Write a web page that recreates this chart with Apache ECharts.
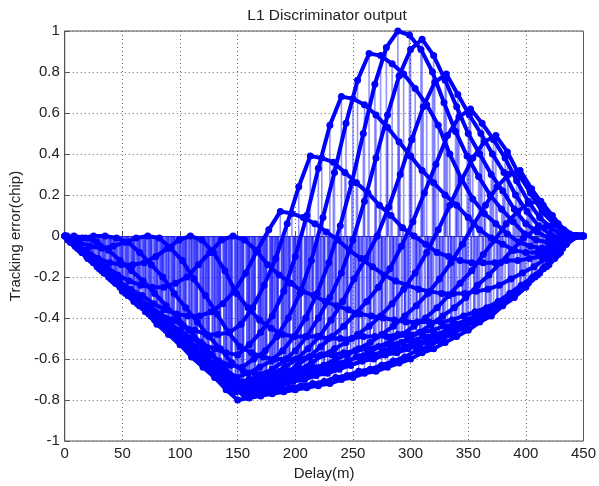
<!DOCTYPE html>
<html>
<head>
<meta charset="utf-8">
<title>L1 Discriminator output</title>
<script src="https://cdn.jsdelivr.net/npm/echarts@6.0.0/dist/echarts.min.js"></script>
<style>
  html, body { margin: 0; padding: 0; background: #fff; }
  #chart { width: 599px; height: 486px; }
</style>
</head>
<body>
<div id="chart"></div>
<script>
// delay step of every curve (m), each curve starts at its own delay
var stepM = 10;
var curveStart = [8, 5, 2, 9, 6, 7, 3, 0, 4, 9, 0, 1, 2, 4, 5, 3, 8, 0, 5];

// tracking error (chip)
var curve1 = [0.00,-0.01,-0.03,-0.07,-0.12,-0.17,-0.22,-0.28,-0.34,-0.40,-0.46,-0.52,-0.58,-0.64,-0.70,-0.71,-0.71,-0.71,-0.70,-0.69,-0.68,-0.66,-0.65,-0.64,-0.63,-0.61,-0.60,-0.58,-0.57,-0.55,-0.53,-0.51,-0.49,-0.47,-0.44,-0.41,-0.37,-0.34,-0.29,-0.25,-0.20,-0.15,-0.09,-0.02,0.00];
var curve2 = [-0.01,-0.01,0.00,0.00,-0.01,-0.03,-0.08,-0.14,-0.20,-0.28,-0.35,-0.42,-0.49,-0.55,-0.62,-0.66,-0.67,-0.67,-0.67,-0.66,-0.65,-0.64,-0.63,-0.62,-0.61,-0.59,-0.58,-0.57,-0.56,-0.54,-0.52,-0.51,-0.49,-0.46,-0.44,-0.41,-0.38,-0.35,-0.31,-0.26,-0.21,-0.16,-0.11,-0.04,0.00];
var curve3 = [-0.01,-0.03,-0.05,-0.06,-0.05,-0.03,-0.01,0.00,-0.01,-0.06,-0.12,-0.21,-0.29,-0.38,-0.47,-0.54,-0.57,-0.59,-0.60,-0.60,-0.60,-0.59,-0.58,-0.58,-0.57,-0.56,-0.55,-0.54,-0.53,-0.52,-0.51,-0.49,-0.48,-0.46,-0.44,-0.41,-0.38,-0.35,-0.31,-0.27,-0.23,-0.18,-0.12,-0.06,0.00];
var curve4 = [-0.04,-0.07,-0.11,-0.13,-0.14,-0.14,-0.13,-0.10,-0.06,-0.02,0.00,-0.02,-0.08,-0.17,-0.28,-0.35,-0.41,-0.45,-0.48,-0.49,-0.49,-0.49,-0.50,-0.50,-0.50,-0.49,-0.49,-0.49,-0.48,-0.48,-0.47,-0.46,-0.44,-0.43,-0.41,-0.38,-0.35,-0.32,-0.28,-0.24,-0.19,-0.14,-0.08,-0.01,0.00];
var curve5 = [-0.03,-0.07,-0.11,-0.15,-0.19,-0.22,-0.24,-0.25,-0.25,-0.23,-0.20,-0.14,-0.08,-0.02,0.00,-0.02,-0.07,-0.14,-0.19,-0.23,-0.27,-0.29,-0.32,-0.34,-0.36,-0.38,-0.39,-0.40,-0.41,-0.42,-0.42,-0.42,-0.42,-0.41,-0.39,-0.37,-0.35,-0.32,-0.28,-0.24,-0.20,-0.15,-0.10,-0.03,0.00];
var curve6 = [-0.03,-0.08,-0.13,-0.17,-0.22,-0.26,-0.29,-0.33,-0.36,-0.38,-0.39,-0.39,-0.37,-0.33,-0.27,-0.18,-0.07,0.03,0.12,0.11,0.09,0.06,0.02,-0.02,-0.07,-0.11,-0.15,-0.19,-0.22,-0.24,-0.26,-0.27,-0.28,-0.28,-0.28,-0.27,-0.26,-0.24,-0.21,-0.18,-0.15,-0.11,-0.07,-0.02,0.00];
var curve7 = [-0.02,-0.06,-0.11,-0.16,-0.21,-0.25,-0.30,-0.34,-0.38,-0.41,-0.44,-0.46,-0.48,-0.48,-0.47,-0.43,-0.35,-0.24,-0.11,0.06,0.24,0.39,0.38,0.36,0.31,0.26,0.21,0.15,0.10,0.04,0.00,-0.04,-0.08,-0.10,-0.12,-0.13,-0.13,-0.13,-0.12,-0.12,-0.11,-0.10,-0.07,-0.04,0.00];
var curve8 = [0.00,-0.05,-0.10,-0.15,-0.20,-0.25,-0.29,-0.34,-0.38,-0.42,-0.46,-0.50,-0.53,-0.55,-0.57,-0.58,-0.53,-0.47,-0.39,-0.27,-0.10,0.10,0.33,0.54,0.68,0.67,0.64,0.59,0.53,0.46,0.39,0.32,0.26,0.20,0.15,0.09,0.03,-0.01,-0.04,-0.07,-0.08,-0.08,-0.07,-0.05,0.00,0.00];
var curve9 = [-0.02,-0.07,-0.12,-0.17,-0.22,-0.27,-0.32,-0.36,-0.41,-0.45,-0.50,-0.54,-0.57,-0.61,-0.63,-0.64,-0.60,-0.56,-0.49,-0.40,-0.28,-0.12,0.09,0.31,0.55,0.76,0.89,0.88,0.84,0.79,0.72,0.64,0.54,0.40,0.28,0.18,0.11,0.06,0.01,-0.03,-0.05,-0.06,-0.05,-0.03,0.00];
var curve10 = [-0.05,-0.10,-0.15,-0.20,-0.25,-0.30,-0.35,-0.39,-0.44,-0.49,-0.53,-0.57,-0.62,-0.65,-0.69,-0.67,-0.64,-0.61,-0.56,-0.49,-0.40,-0.28,-0.13,0.05,0.26,0.50,0.74,0.92,1.00,0.98,0.91,0.80,0.65,0.51,0.39,0.29,0.20,0.13,0.07,0.01,-0.02,-0.03,-0.03,-0.01,0.00];
var curve11 = [0.00,-0.05,-0.10,-0.15,-0.20,-0.26,-0.31,-0.35,-0.40,-0.45,-0.50,-0.55,-0.59,-0.63,-0.68,-0.72,-0.70,-0.68,-0.65,-0.61,-0.56,-0.49,-0.40,-0.30,-0.18,-0.02,0.17,0.38,0.59,0.78,0.91,0.96,0.88,0.76,0.63,0.50,0.40,0.30,0.22,0.13,0.06,0.02,-0.01,-0.02,0.00,0.00];
var curve12 = [0.00,-0.06,-0.11,-0.16,-0.21,-0.26,-0.31,-0.36,-0.41,-0.46,-0.51,-0.56,-0.60,-0.65,-0.69,-0.73,-0.71,-0.70,-0.67,-0.64,-0.60,-0.55,-0.49,-0.41,-0.32,-0.21,-0.11,0.00,0.14,0.30,0.47,0.63,0.75,0.79,0.69,0.59,0.50,0.40,0.31,0.20,0.12,0.05,0.01,-0.01,0.00];
var curve13 = [0.00,-0.06,-0.11,-0.17,-0.22,-0.27,-0.32,-0.37,-0.42,-0.47,-0.52,-0.57,-0.62,-0.66,-0.71,-0.74,-0.73,-0.71,-0.69,-0.67,-0.63,-0.59,-0.54,-0.49,-0.44,-0.38,-0.32,-0.25,-0.16,-0.05,0.07,0.21,0.35,0.49,0.58,0.62,0.55,0.47,0.38,0.27,0.17,0.09,0.04,0.00,0.00];
var curve14 = [-0.02,-0.07,-0.12,-0.18,-0.23,-0.28,-0.33,-0.38,-0.43,-0.48,-0.53,-0.58,-0.63,-0.68,-0.73,-0.75,-0.74,-0.72,-0.70,-0.68,-0.65,-0.62,-0.58,-0.55,-0.52,-0.48,-0.44,-0.39,-0.33,-0.26,-0.18,-0.08,0.03,0.15,0.27,0.38,0.46,0.49,0.41,0.30,0.21,0.12,0.06,0.01,0.00];
var curve15 = [-0.03,-0.08,-0.13,-0.18,-0.23,-0.29,-0.34,-0.39,-0.44,-0.49,-0.54,-0.59,-0.64,-0.69,-0.74,-0.76,-0.74,-0.73,-0.71,-0.69,-0.67,-0.65,-0.63,-0.60,-0.58,-0.55,-0.52,-0.48,-0.44,-0.39,-0.34,-0.28,-0.21,-0.13,-0.04,0.06,0.15,0.24,0.30,0.32,0.23,0.15,0.07,0.02,0.00];
var curve16 = [-0.02,-0.07,-0.12,-0.17,-0.22,-0.28,-0.33,-0.38,-0.43,-0.48,-0.53,-0.58,-0.63,-0.68,-0.73,-0.76,-0.75,-0.74,-0.73,-0.71,-0.69,-0.68,-0.66,-0.64,-0.62,-0.59,-0.57,-0.54,-0.51,-0.48,-0.44,-0.40,-0.35,-0.29,-0.23,-0.17,-0.09,-0.02,0.06,0.12,0.16,0.17,0.10,0.03,0.00];
var curve17 = [-0.04,-0.09,-0.15,-0.20,-0.25,-0.30,-0.35,-0.41,-0.46,-0.51,-0.56,-0.61,-0.66,-0.71,-0.76,-0.76,-0.75,-0.74,-0.73,-0.71,-0.70,-0.68,-0.67,-0.65,-0.63,-0.61,-0.58,-0.56,-0.53,-0.50,-0.47,-0.43,-0.39,-0.35,-0.30,-0.24,-0.19,-0.13,-0.07,-0.01,0.03,0.05,0.06,0.01,0.00];
var curve18 = [0.00,-0.05,-0.11,-0.16,-0.21,-0.27,-0.32,-0.37,-0.43,-0.48,-0.53,-0.59,-0.64,-0.69,-0.75,-0.80,-0.79,-0.78,-0.77,-0.76,-0.75,-0.74,-0.73,-0.72,-0.70,-0.69,-0.67,-0.66,-0.64,-0.62,-0.60,-0.57,-0.55,-0.52,-0.49,-0.46,-0.42,-0.39,-0.34,-0.30,-0.25,-0.19,-0.14,-0.08,0.00,0.00];
var curve19 = [-0.03,-0.08,-0.13,-0.18,-0.23,-0.29,-0.34,-0.39,-0.44,-0.49,-0.54,-0.60,-0.65,-0.70,-0.75,-0.77,-0.77,-0.76,-0.75,-0.74,-0.73,-0.72,-0.71,-0.69,-0.68,-0.66,-0.65,-0.63,-0.61,-0.59,-0.56,-0.54,-0.51,-0.48,-0.45,-0.42,-0.38,-0.35,-0.30,-0.26,-0.21,-0.16,-0.10,-0.04,0.00];

var curves = [curve1, curve2, curve3, curve4, curve5, curve6, curve7, curve8, curve9, curve10,
              curve11, curve12, curve13, curve14, curve15, curve16, curve17, curve18, curve19];

var chart = echarts.init(document.getElementById('chart'));

var stems = [];
var series = [];
curves.forEach(function (vals, k) {
  var pts = vals.map(function (v, i) { return [curveStart[k] + i * stepM, v]; });
  pts.forEach(function (p) { stems.push(p); });
  series.push({
    type: 'line',
    data: pts,
    symbol: 'circle',
    symbolSize: 7,
    itemStyle: { color: '#0000ff' },
    lineStyle: { color: '#0000ff', width: 4 },
    z: 3,
    silent: true
  });
});

// stems from zero to every point
series.unshift({
  type: 'custom',
  data: stems,
  encode: { x: 0, y: 1 },
  z: 2,
  silent: true,
  renderItem: function (params, api) {
    var top = api.coord([api.value(0), api.value(1)]);
    var base = api.coord([api.value(0), 0]);
    return {
      type: 'line',
      shape: { x1: base[0], y1: base[1], x2: top[0], y2: top[1] },
      style: { stroke: 'rgba(20,20,255,0.45)', lineWidth: 1.6 }
    };
  }
});

var txt = { color: '#222', fontFamily: 'Liberation Sans, Arial, sans-serif', fontSize: 15 };

chart.setOption({
  animation: false,
  backgroundColor: '#fff',
  title: {
    text: 'L1 Discriminator output',
    left: 322,
    top: 3,
    textAlign: 'center',
    textStyle: { color: '#222', fontFamily: 'Liberation Sans, Arial, sans-serif', fontSize: 15.5, fontWeight: 'normal' }
  },
  grid: { left: 63, right: 14, top: 31, bottom: 45, show: true, borderColor: '#555', borderWidth: 1 },
  xAxis: {
    type: 'value', min: 0, max: 450, interval: 50,
    name: 'Delay(m)', nameLocation: 'middle', nameGap: 24, nameTextStyle: txt,
    axisLine: { lineStyle: { color: '#555' } },
    axisTick: { inside: true, length: 5, lineStyle: { color: '#555' } },
    axisLabel: Object.assign({ margin: 5 }, txt),
    splitLine: { lineStyle: { color: '#666', type: [1, 3] } }
  },
  yAxis: {
    type: 'value', min: -1, max: 1, interval: 0.2,
    name: 'Tracking error(chip)', nameLocation: 'middle', nameGap: 41, nameTextStyle: txt,
    axisLine: { lineStyle: { color: '#555' } },
    axisTick: { inside: true, length: 5, lineStyle: { color: '#555' } },
    axisLabel: Object.assign({ margin: 5 }, txt),
    splitLine: { lineStyle: { color: '#666', type: [1, 3] } }
  },
  series: series
});
</script>
</body>
</html>
